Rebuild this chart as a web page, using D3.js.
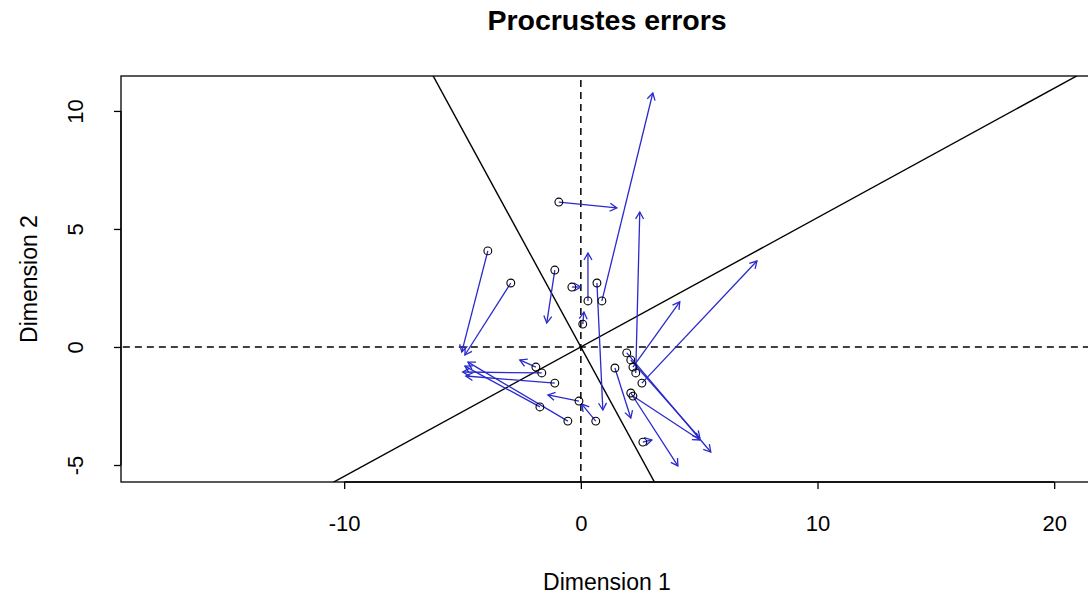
<!DOCTYPE html>
<html>
<head>
<meta charset="utf-8">
<script src="https://cdn.jsdelivr.net/npm/d3@7.9.0/dist/d3.min.js"></script>
<style>
  html, body { margin: 0; padding: 0; background: #fff; }
  svg { display: block; font-family: "Liberation Sans", Arial, sans-serif; }
</style>
</head>
<body>
<div id="chart"></div>
<script>
// target configuration (rotated Y) -> points
const yRotX = [-0.93, 0.89, 0.68, 0.30, -1.10, -3.93, -2.96, -0.38, 0.08, -1.90, -1.65, -1.10, -1.73,
               -0.55, -0.08, 0.63, 1.94, 2.11, 2.20, 2.32, 2.58, 1.44, 2.11, 2.62, 2.20];
const yRotY = [6.14, 1.95, 2.71, 1.95, 3.26, 4.07, 2.71, 2.54, 0.97, -0.85, -1.10, -1.53, -2.54,
               -3.14, -2.29, -3.14, -0.25, -0.55, -0.85, -1.10, -1.53, -0.89, -1.95, -4.03, -2.08];
// comparison configuration (X) -> arrow heads
const xX = [1.52, 3.04, 0.93, 0.30, -1.44, -5.03, -4.90, 0.00, 0.13, -2.58, -4.99, -4.86, -4.90,
            -4.77, -1.39, 0.04, 5.49, 5.03, 4.18, 2.49, 7.44, 2.11, 4.10, 3.00, 5.03];
const xY = [5.89, 10.76, -2.67, 3.98, 1.02, -0.21, -0.34, 2.54, 1.48, -0.55, -1.06, -1.23, -0.81,
            -0.64, -2.03, -2.42, -4.45, -3.86, 1.91, 5.72, 3.64, -3.01, -5.04, -3.94, -3.94];
// slopes of the rotation axes
const rotSlopes = [0.548, -1.84];
const xTicks = [-10, 0, 10, 20];
const yTicks = [-5, 0, 5, 10];

const W = 1088, H = 601;
const margin = { left: 121, top: 76, right: -5, bottom: 119 };
const pw = W - margin.left - margin.right, ph = H - margin.top - margin.bottom;
const fontFam = '"Liberation Sans", Arial, sans-serif';
const fmt = d => String(d); // plain hyphen for negatives, as in R

const svg = d3.select('#chart').append('svg').attr('width', W).attr('height', H);

const x = d3.scaleLinear().domain([-19.43, 21.64]).range([margin.left, margin.left + pw]);
const y = d3.scaleLinear().domain([-5.72, 11.48]).range([margin.top + ph, margin.top]);

svg.append('defs').append('clipPath').attr('id', 'clip')
  .append('rect').attr('x', margin.left).attr('y', margin.top).attr('width', pw).attr('height', ph);

const plot = svg.append('g').attr('clip-path', 'url(#clip)');

// dashed zero lines
plot.append('line').attr('x1', x(-30)).attr('x2', x(30)).attr('y1', y(0)).attr('y2', y(0))
  .attr('stroke', '#000').attr('stroke-dasharray', '7,5').attr('stroke-width', 1.5);
plot.append('line').attr('x1', x(0)).attr('x2', x(0)).attr('y1', y(-20)).attr('y2', y(20))
  .attr('stroke', '#000').attr('stroke-dasharray', '7,5').attr('stroke-width', 1.5);

// rotation axes
rotSlopes.forEach(b => {
  plot.append('line')
    .attr('x1', x(-40)).attr('y1', y(-40 * b))
    .attr('x2', x(40)).attr('y2', y(40 * b))
    .attr('stroke', '#000').attr('stroke-width', 1.4);
});

// arrows
const pairs = yRotX.map((d, i) => ({ x0: d, y0: yRotY[i], x1: xX[i], y1: xY[i] }));
const arrowCol = '#2a2acc';
const headLen = 8, headAng = Math.PI / 6;
pairs.forEach(p => {
  const sx = x(p.x0), sy = y(p.y0), ex = x(p.x1), ey = y(p.y1);
  plot.append('line').attr('x1', sx).attr('y1', sy).attr('x2', ex).attr('y2', ey)
    .attr('stroke', arrowCol).attr('stroke-width', 1.3);
  const a = Math.atan2(ey - sy, ex - sx);
  const pts = [a + Math.PI - headAng, a + Math.PI + headAng].map(t => [ex + headLen * Math.cos(t), ey + headLen * Math.sin(t)]);
  plot.append('path')
    .attr('d', `M${pts[0][0]},${pts[0][1]}L${ex},${ey}L${pts[1][0]},${pts[1][1]}`)
    .attr('fill', 'none').attr('stroke', arrowCol).attr('stroke-width', 1.3);
});

// points
plot.selectAll('circle').data(pairs).join('circle')
  .attr('cx', d => x(d.x0)).attr('cy', d => y(d.y0)).attr('r', 3.9)
  .attr('fill', 'none').attr('stroke', '#000').attr('stroke-width', 1.1);

// box
svg.append('rect').attr('x', margin.left).attr('y', margin.top).attr('width', pw).attr('height', ph)
  .attr('fill', 'none').attr('stroke', '#000').attr('stroke-width', 1.3);

// x axis
const gx = svg.append('g').attr('transform', `translate(0,${margin.top + ph})`)
  .call(d3.axisBottom(x).tickValues(xTicks).tickSize(7).tickPadding(26).tickFormat(fmt));
gx.select('.domain').remove();
gx.append('line').attr('x1', x(xTicks[0])).attr('x2', x(xTicks[xTicks.length - 1]))
  .attr('stroke', '#000').attr('stroke-width', 1.3);
gx.selectAll('.tick line').attr('stroke-width', 1.3);
gx.selectAll('text').attr('font-size', 22).attr('fill', '#000').attr('font-family', fontFam);

// y axis
const gy = svg.append('g').attr('transform', `translate(${margin.left},0)`)
  .call(d3.axisLeft(y).tickValues(yTicks).tickSize(7).tickFormat(fmt));
gy.select('.domain').remove();
gy.append('line').attr('y1', y(yTicks[0])).attr('y2', y(yTicks[yTicks.length - 1]))
  .attr('stroke', '#000').attr('stroke-width', 1.3);
gy.selectAll('.tick line').attr('stroke-width', 1.3);
gy.selectAll('.tick text')
  .attr('x', null).attr('dy', null)
  .attr('transform', 'translate(-38,0) rotate(-90)')
  .attr('text-anchor', 'middle')
  .attr('font-size', 22).attr('fill', '#000').attr('font-family', fontFam);

// labels
const cx = (x.range()[0] + x.range()[1]) / 2;
svg.append('text').attr('x', cx).attr('y', 590)
  .attr('text-anchor', 'middle').attr('font-size', 23).text('Dimension 1');
svg.append('text').attr('transform', `translate(37,${(margin.top + margin.top + ph) / 2}) rotate(-90)`)
  .attr('text-anchor', 'middle').attr('font-size', 23).text('Dimension 2');
svg.append('text').attr('x', cx).attr('y', 30)
  .attr('text-anchor', 'middle').attr('font-size', 28.5).attr('font-weight', 'bold').text('Procrustes errors');
</script>
</body>
</html>
